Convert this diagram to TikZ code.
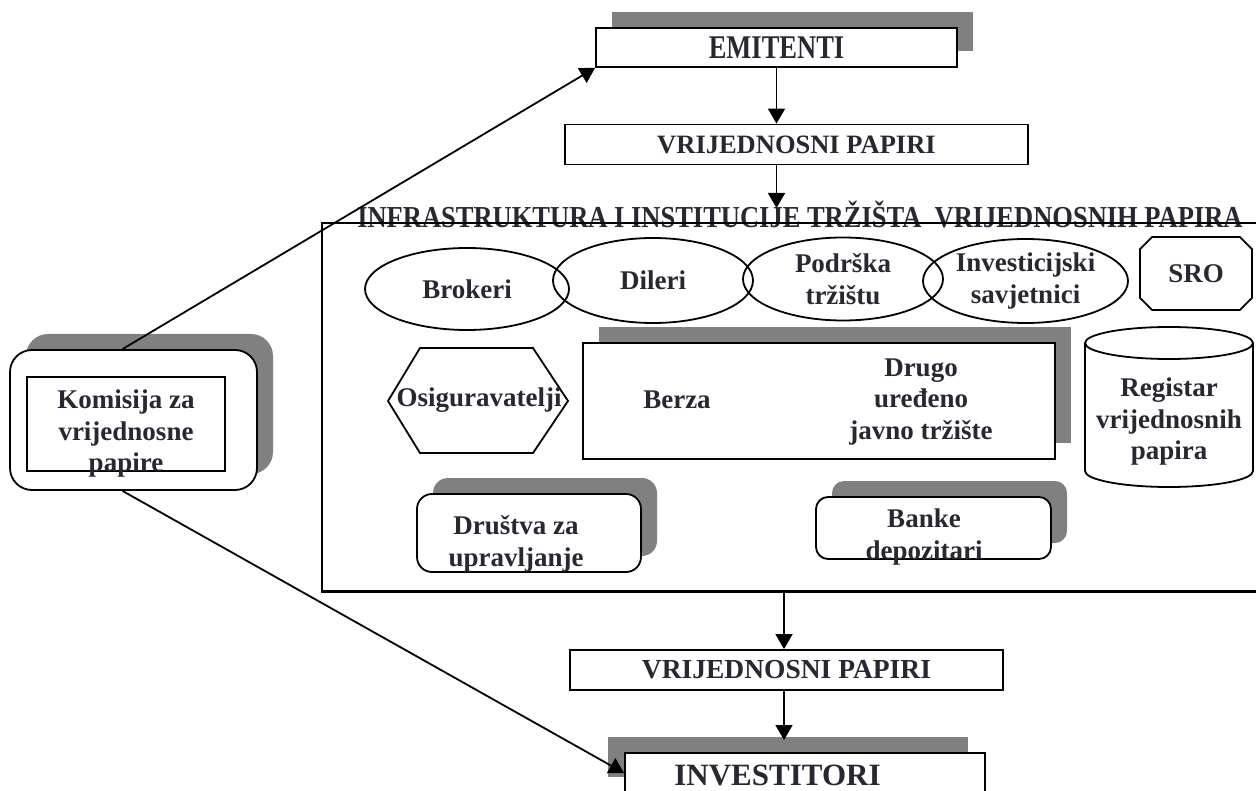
\documentclass[tikz,border=0pt]{standalone}
\usepackage{fontspec}
\usepackage{graphicx}
\setmainfont{Liberation Serif}
\usetikzlibrary{arrows.meta,shapes.geometric,shapes.misc,shadows}

\definecolor{ink}{RGB}{40,40,52}
\definecolor{shade}{RGB}{128,128,128}
\newcommand{\bodyfont}{\fontsize{27}{31.5}\selectfont\bfseries}
\newcommand{\capsfont}{\fontsize{26.5}{30}\selectfont\bfseries}
\newcommand{\tall}[2]{\scalebox{1}[#1]{#2}}

\tikzset{
  box/.style={draw, line width=1.8pt, fill=white, inner sep=0pt},
  shadowed/.style={general shadow={fill=shade, shadow xshift=16pt, shadow yshift=16pt}},
  oval/.style={ellipse, draw, line width=1.8pt, inner sep=0pt},
  lbl/.style={text=ink, font=\bodyfont, align=center, inner sep=0pt},
  arr/.style={-{Triangle[length=15pt,width=17pt]}, line width=1.8pt},
}

\begin{document}
\begin{tikzpicture}[x=1pt, y=-1pt]
  \useasboundingbox (0,0) rectangle (1256,791);

  % top chain
  \node[box, shadowed, minimum width=361pt, minimum height=39pt, lbl, font=\capsfont] (emit) at (776.5,47.5) {\tall{1.25}{EMITENTI}};
  \node[box, minimum width=463pt, minimum height=40pt, lbl, font=\capsfont] (vp1) at (796.5,144.5) {VRIJEDNOSNI PAPIRI};
  \coordinate (titletip) at (777,208);

  \draw[arr] (emit.south) -- (emit.south |- vp1.north);
  \draw[arr] (vp1.south -| emit.south) -- (emit.south |- titletip);

  % infrastructure frame
  \node[lbl, font=\capsfont] (title) at (800,215) {\tall{1.15}{INFRASTRUKTURA I INSTITUCIJE TRŽIŠTA\ \ VRIJEDNOSNIH PAPIRA}};
  \node[draw, line width=1.5pt, minimum width=940pt, minimum height=368pt, inner sep=0pt] (inst) at (792,407) {};
  \draw[line width=3pt] (inst.south west) -- (inst.south east);

  \node[oval, minimum width=204pt, minimum height=82pt, lbl] (brok) at (467,289) {Brokeri};
  \node[oval, minimum width=200pt, minimum height=85pt, lbl] (dil) at (653,280.5) {Dileri};
  \node[oval, minimum width=200pt, minimum height=83pt, lbl] (pod) at (843,279) {Podrška\\tržištu};
  \node[oval, minimum width=205pt, minimum height=84pt, lbl] (inv) at (1025.5,281) {Investicijski\\savjetnici};
  \node[chamfered rectangle, chamfered rectangle xsep=22pt, draw, line width=1.8pt, minimum width=112pt, minimum height=73pt, lbl] (sro) at (1196,273.5) {SRO};

  \draw[line width=1.8pt] (388,401) -- (420,348) -- (533,348) -- (568,401) -- (533,453) -- (420,453) -- cycle;
  \node[lbl] (osig) at (479,400) {Osiguravatelji};

  \node[box, shadowed, line width=2.2pt, minimum width=472pt, minimum height=116pt] (mkt) at (819,401) {};
  \node[lbl] (berza) at (677,400) {Berza};
  \node[lbl] (drugo) at (921,402) {Drugo\\uređeno\\javno tržište};

  \draw[line width=1.8pt, fill=white] (1085,343) -- (1085,471) arc[start angle=180, end angle=0, x radius=84, y radius=16] -- (1253,343);
  \draw[line width=1.8pt] (1169,343) ellipse[x radius=84, y radius=16];
  \node[lbl] (reg) at (1169,422) {Registar\\vrijednosnih\\papira};

  \node[box, shadowed, rounded corners=15pt, minimum width=224pt, minimum height=78pt] (drus) at (529,533) {};
  \node[lbl] (drustxt) at (516,544) {Društva za\\upravljanje};
  \node[box, shadowed, rounded corners=12pt, minimum width=235pt, minimum height=62pt] (banke) at (933.5,528) {};
  \node[lbl] (banketxt) at (924,537) {Banke\\depozitari};

  % commission
  \node[box, shadowed, rounded corners=22pt, minimum width=247pt, minimum height=140pt] (kom) at (133.5,420) {};
  \node[draw, line width=1.4pt, minimum width=198pt, minimum height=94pt] (kombox) at (126,424) {};
  \node[lbl] (komtxt) at (126,434) {Komisija za\\vrijednosne\\papire};

  % bottom chain
  \node[box, minimum width=433pt, minimum height=40pt, lbl, font=\fontsize{27.5}{31}\selectfont\bfseries] (vp2) at (786.5,670) {VRIJEDNOSNI PAPIRI};
  \node[box, general shadow={fill=shade, shadow xshift=-17pt, shadow yshift=16pt}, minimum width=360pt, minimum height=40pt] (invest) at (805,773) {};
  \node[lbl, font=\fontsize{31}{34}\selectfont\bfseries] (invtxt) at (777.5,775) {INVESTITORI};
  \coordinate (invtop) at (784,740);

  \draw[arr] (inst.south -| invtop) -- (vp2.north -| invtop);
  \draw[arr] (vp2.south -| invtop) -- (invtop);

  \draw[arr] ([xshift=-11pt]kom.north) -- (emit.south west);
  \draw[arr] ([xshift=-11pt]kom.south) -- (invest.west);
\end{tikzpicture}
\end{document}
